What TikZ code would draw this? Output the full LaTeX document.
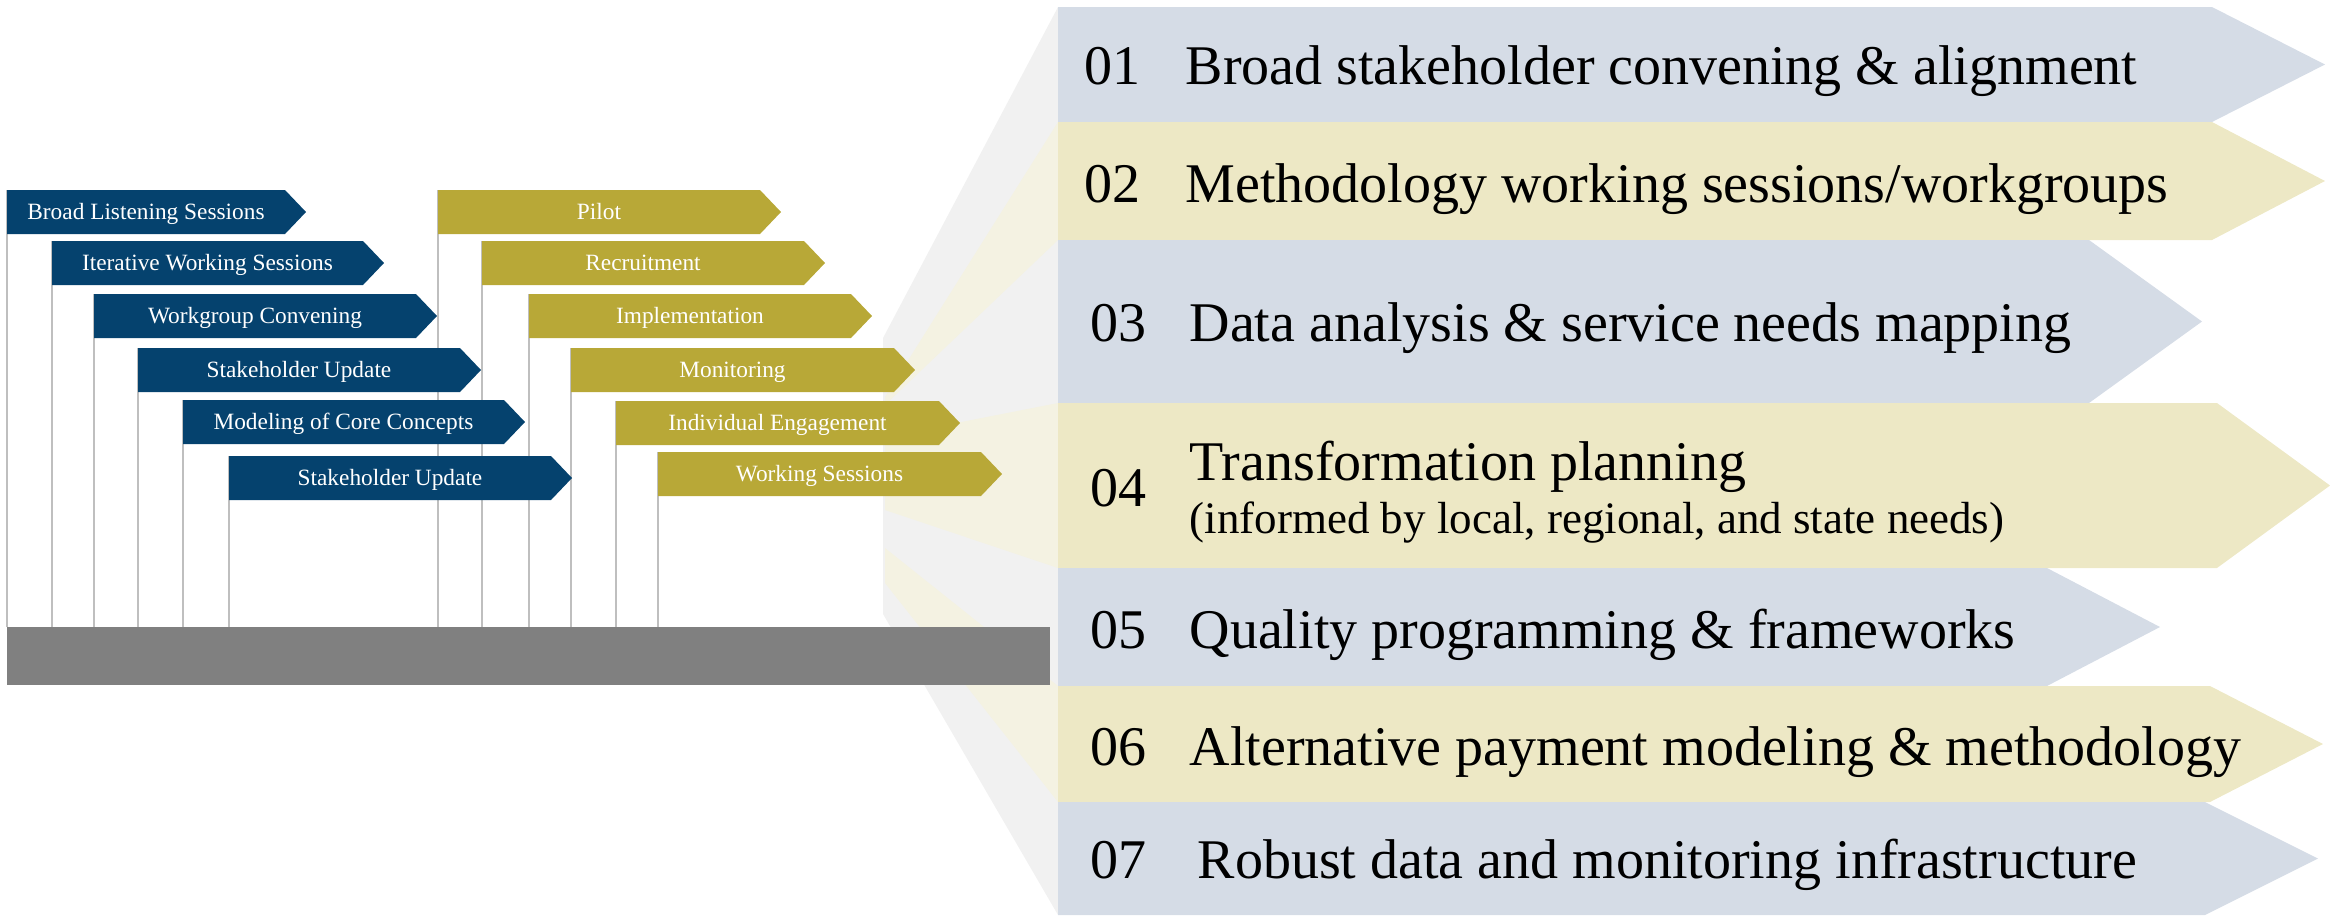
\documentclass[tikz,border=0pt]{standalone}
\usepackage{fontspec}
\setmainfont{Liberation Serif}
\usepackage{tikz}
\usetikzlibrary{calc}
\definecolor{navyFlag}{HTML}{05426E}
\definecolor{goldFlag}{HTML}{B8A837}
\definecolor{rowBlue}{HTML}{D5DCE6}
\definecolor{rowSand}{HTML}{EDE8C5}
\definecolor{funnelGray}{HTML}{F1F1F1}
\definecolor{funnelSand}{HTML}{F4F2E2}
\definecolor{barGray}{HTML}{808080}
\definecolor{stemGray}{HTML}{BFBFBF}
\tikzset{
 flagtext/.style={text=white, font=\fontsize{7}{8}\selectfont, anchor=base, inner sep=0pt},
 rownum/.style={font=\fontsize{16.8}{19}\selectfont, anchor=base west, inner sep=0pt},
 rowsub/.style={font=\fontsize{13.5}{15}\selectfont, anchor=base west, inner sep=0pt},
 stem/.style={draw=stemGray, line width=0.6pt}
}
\pgfkeys{
 /flagBlock/.is family, /flagBlock,
 c/.estore in = \fbC,
 w/.estore in = \fbW,
 h/.estore in = \fbH,
 name/.estore in = \fbName,
 default/.style = {c=navyFlag, w=322, h=44, name=defaultflag}
}
\newcommand{\flagBlock}[3][]{
    \pgfkeys{/flagBlock, default, #1}%
    \coordinate (\fbName_nw) at #2;
    \coordinate (\fbName_sw) at ($#2 + (0, \fbH)$);
    \draw[stem] (\fbName_nw) -- (\fbName_nw |- bar_nw);
    \fill[\fbC] (\fbName_nw) -- ++(\fbW, 0) -- ++(21, \fbH/2) -- ++(-21, \fbH/2) -- (\fbName_sw) -- cycle;
    \node[flagtext] (\fbName) at ($#2 + (\fbW/2, \fbH/2 + 7.5)$) {#3};
}
\pgfkeys{
 /stepRow/.is family, /stepRow,
 c/.estore in = \srC,
 top/.estore in = \srTop,
 bot/.estore in = \srBot,
 tip/.estore in = \srTip,
 base/.estore in = \srBase,
 nbase/.estore in = \srNBase,
 tx/.estore in = \srTX,
 nx/.estore in = \srNX,
 name/.estore in = \srName,
 default/.style = {c=rowBlue, top=0, bot=100, tip=2200, base=60, nbase={}, tx=1189, nx=1090, name=defaultrow}
}
\newcommand{\stepRow}[3][]{
    \pgfkeys{/stepRow, default, #1}%
    \ifx\srNBase\empty\let\srNBase\srBase\fi
    \coordinate (\srName_nw) at (1058, \srTop);
    \coordinate (\srName_sw) at (1058, \srBot);
    \fill[\srC] (\srName_nw) -- (\srTip, \srTop) -- (\srTip+113, {(\srTop+\srBot)/2}) -- (\srTip, \srBot) -- (\srName_sw) -- cycle;
    \node[rownum] (\srName_num) at (\srNX, \srNBase) {#2};
    \node[rownum] (\srName) at (\srTX, \srBase) {#3};
}

\begin{document}
\begin{tikzpicture}[x=0.3pt, y=-0.3pt]
    \useasboundingbox (0,0) rectangle (2330,915);
    \fill[funnelGray] (1058,7) -- (883,338) -- (883,614) -- (1058,915) -- cycle;
    \fill[funnelSand] (1058,122) -- (885,397) -- (885,405) -- (1058,240) -- cycle;
    \fill[funnelSand] (1058,403) -- (885,437) -- (885,510) -- (1058,568) -- cycle;
    \fill[funnelSand] (1058,686) -- (885,548) -- (885,583) -- (1058,802) -- cycle;

    \stepRow[name=r01, top=7, bot=122, tip=2212, base=84, tx=1185, nx=1084]{01}{Broad stakeholder convening \& alignment}
    \stepRow[name=r02, c=rowSand, top=122, bot=240, tip=2212, base=202, tx=1185, nx=1084]{02}{Methodology working sessions/workgroups}
    \stepRow[name=r03, top=240, bot=403, tip=2089, base=341]{03}{Data analysis \& service needs mapping}
    \stepRow[name=r04, c=rowSand, top=403, bot=568, tip=2217, base=480, nbase=506]{04}{Transformation planning}
    \node[rowsub] (r04_sub) at (1189,533) {(informed by local, regional, and state needs)};
    \stepRow[name=r05, top=568, bot=686, tip=2047, base=648]{05}{Quality programming \& frameworks}
    \stepRow[name=r06, c=rowSand, top=686, bot=802, tip=2210, base=765]{06}{Alternative payment modeling \& methodology}
    \stepRow[name=r07, top=802, bot=915, tip=2205, base=878, tx=1197]{07}{Robust data and monitoring infrastructure}

    \coordinate (bar_nw) at (7,627);
    \flagBlock[name=pilot, c=goldFlag]{(438,190)}{Pilot}
    \flagBlock[name=recruit, c=goldFlag]{(482,241)}{Recruitment}
    \flagBlock[name=implement, c=goldFlag]{(529,294)}{Implementation}
    \flagBlock[name=monitor, c=goldFlag, w=323]{(571,348)}{Monitoring}
    \flagBlock[name=engage, c=goldFlag, w=323]{(616,401)}{Individual Engagement}
    \flagBlock[name=worksess, c=goldFlag, w=323]{(658,452)}{Working Sessions}
    \flagBlock[name=listen, w=278]{(7,190)}{Broad Listening Sessions}
    \flagBlock[name=iterate, w=311]{(52,241)}{Iterative Working Sessions}
    \flagBlock[name=convene]{(94,294)}{Workgroup Convening}
    \flagBlock[name=update, w=322]{(138,348)}{Stakeholder Update}
    \flagBlock[name=model, w=321]{(183,400)}{Modeling of Core Concepts}
    \flagBlock[name=updatetwo]{(229,456)}{Stakeholder Update}
    \fill[barGray] (bar_nw) rectangle (1050,685);
\end{tikzpicture}
\end{document}
